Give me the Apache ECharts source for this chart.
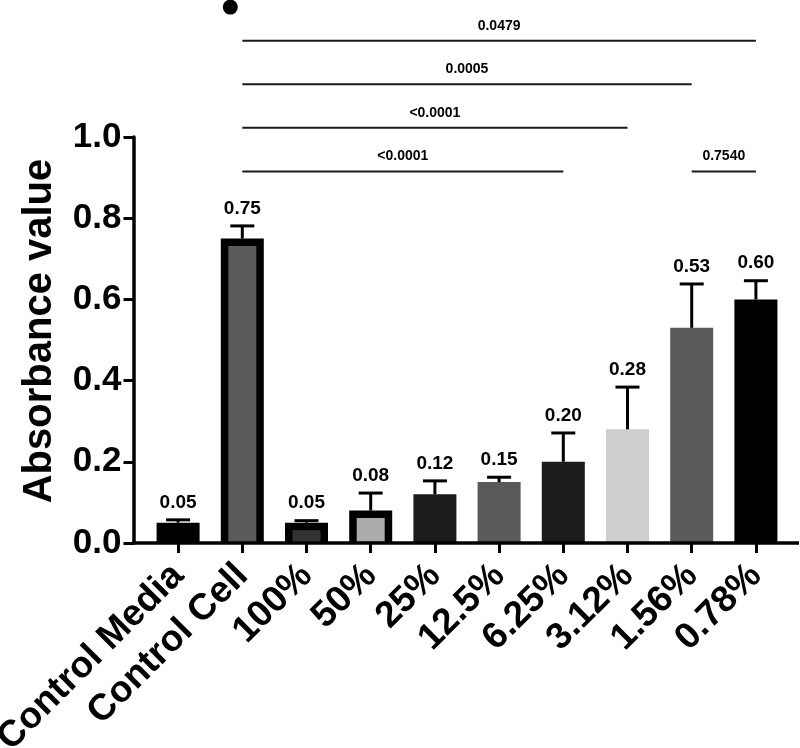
<!DOCTYPE html>
<html>
<head>
<meta charset="utf-8">
<script src="https://cdn.jsdelivr.net/npm/echarts@6/dist/echarts.min.js"></script>
<style>
html,body{margin:0;padding:0;background:#fff}
#chart{width:800px;height:748px}
</style>
</head>
<body>
<div id="chart"></div>
<script>
var categories = ['Control Media', 'Control Cell', '100%', '50%', '25%', '12.5%', '6.25%', '3.12%', '1.56%', '0.78%'];
var means = [0.05, 0.75, 0.05, 0.08, 0.12, 0.15, 0.20, 0.28, 0.53, 0.60];
var errTop = [0.057, 0.781, 0.055, 0.123, 0.153, 0.162, 0.271, 0.384, 0.638, 0.646];
var meanLabels = ['0.05', '0.75', '0.05', '0.08', '0.12', '0.15', '0.20', '0.28', '0.53', '0.60'];
var fillColors = ['#000000', '#5a5a5a', '#333333', '#ababab', '#1c1c1c', '#5a5a5a', '#1c1c1c', '#cecece', '#5a5a5a', '#000000'];
var outlined = [false, true, true, true, false, false, false, false, false, false];

// significance brackets
var bracketFrom = [1, 1, 1, 1, 8];
var bracketTo = [9, 8, 7, 6, 9];
var bracketY = [1.237, 1.13, 1.023, 0.915, 0.915];
var bracketP = ['0.0479', '0.0005', '<0.0001', '<0.0001', '0.7540'];

var dotPoint = [1, 1.32];

var FONT = 'Liberation Sans, Arial, sans-serif';
var BORDER = 7.5;
var BAR_FRAC = 0.67;

var chartDom = document.getElementById('chart');
var myChart = echarts.init(chartDom);
var option;

var barData = means.map(function (v, i) {
  return { value: v, itemStyle: { color: outlined[i] ? '#000000' : fillColors[i] } };
});

var innerData = [];
means.forEach(function (v, i) {
  if (outlined[i]) innerData.push([i, v]);
});

var errData = means.map(function (v, i) { return [i, v, errTop[i]]; });
var bracketData = bracketFrom.map(function (f, k) { return [f, bracketY[k], bracketTo[k]]; });

option = {
  animation: false,
  grid: { left: 146, right: 12, top: 137, bottom: 205, containLabel: false, outerBoundsMode: 'none' },
  xAxis: {
    type: 'category',
    data: categories,
    axisLine: { show: false },
    axisTick: { show: true, alignWithLabel: true, length: 10, lineStyle: { color: '#000', width: 3 } },
    axisLabel: {
      interval: 0,
      rotate: 45,
      margin: 27,
      color: '#000',
      fontFamily: FONT,
      fontWeight: 'bold',
      fontSize: 37
    }
  },
  yAxis: {
    type: 'value',
    min: 0,
    max: 1,
    interval: 0.2,
    offset: 12.5,
    name: 'Absorbance value',
    nameLocation: 'middle',
    nameRotate: 90,
    nameGap: 74,
    nameTextStyle: { color: '#000', fontFamily: FONT, fontWeight: 'bold', fontSize: 40, padding: [0, 0, 0, 18] },
    axisLine: { show: true, lineStyle: { color: '#000', width: 3.5 } },
    axisTick: { show: true, length: 10, lineStyle: { color: '#000', width: 3 } },
    splitLine: { show: false },
    axisLabel: {
      margin: 12,
      color: '#000',
      fontFamily: FONT,
      fontWeight: 'bold',
      fontSize: 35,
      formatter: function (v) { return v.toFixed(1); }
    }
  },
  series: [
    {
      name: 'Absorbance',
      type: 'bar',
      barWidth: (BAR_FRAC * 100) + '%',
      data: barData,
      z: 2
    },
    {
      name: 'inner fill',
      type: 'custom',
      data: innerData,
      encode: { x: 0, y: 1 },
      z: 3,
      renderItem: function (params, api) {
        var i = api.value(0);
        var top = api.coord([i, api.value(1)]);
        var base = api.coord([i, 0]);
        var bw = api.size([1, 0])[0] * BAR_FRAC;
        return {
          type: 'rect',
          shape: { x: top[0] - bw / 2 + BORDER, y: top[1] + BORDER, width: bw - 2 * BORDER, height: base[1] - top[1] - BORDER },
          style: { fill: fillColors[i] }
        };
      }
    },
    {
      name: 'error',
      type: 'custom',
      data: errData,
      encode: { x: 0, y: [1, 2] },
      z: 4,
      renderItem: function (params, api) {
        var i = api.value(0);
        var lo = api.coord([i, api.value(1)]);
        var hi = api.coord([i, api.value(2)]);
        var cap = 12;
        return {
          type: 'group',
          children: [
            { type: 'line', shape: { x1: lo[0], y1: lo[1], x2: hi[0], y2: hi[1] }, style: { stroke: '#000', lineWidth: 3 } },
            { type: 'line', shape: { x1: hi[0] - cap, y1: hi[1], x2: hi[0] + cap, y2: hi[1] }, style: { stroke: '#000', lineWidth: 3 } },
            {
              type: 'text',
              x: hi[0], y: hi[1] - 8,
              style: {
                text: meanLabels[params.dataIndex],
                fill: '#000',
                font: 'bold 19px ' + FONT,
                textAlign: 'center',
                textVerticalAlign: 'bottom'
              }
            }
          ]
        };
      }
    },
    {
      name: 'brackets',
      type: 'custom',
      data: bracketData,
      encode: { x: [0, 2], y: 1 },
      z: 4,
      renderItem: function (params, api) {
        var a = api.coord([api.value(0), api.value(1)]);
        var b = api.coord([api.value(2), api.value(1)]);
        return {
          type: 'group',
          children: [
            { type: 'line', shape: { x1: a[0], y1: a[1], x2: b[0], y2: b[1] }, style: { stroke: '#1a1a1a', lineWidth: 2 } },
            {
              type: 'text',
              x: (a[0] + b[0]) / 2, y: a[1] - 8,
              style: {
                text: bracketP[params.dataIndex],
                fill: '#000',
                font: 'bold 14px ' + FONT,
                textAlign: 'center',
                textVerticalAlign: 'bottom'
              }
            }
          ]
        };
      }
    },
    {
      name: 'marker',
      type: 'scatter',
      data: [dotPoint],
      symbol: 'circle',
      symbolSize: 15,
      symbolOffset: [-12, 0],
      clip: false,
      itemStyle: { color: '#000', opacity: 1 },
      z: 5
    }
  ]
};

option && myChart.setOption(option);

// x axis line runs from the y axis to just past the last band, like the original
var c0 = myChart.convertToPixel({ xAxisIndex: 0 }, 0);
var c1 = myChart.convertToPixel({ xAxisIndex: 0 }, 1);
var cN = myChart.convertToPixel({ xAxisIndex: 0 }, categories.length - 1);
var band = c1 - c0;
var y0 = myChart.convertToPixel({ yAxisIndex: 0 }, 0);
myChart.setOption({
  graphic: [{
    type: 'line',
    z: 10,
    shape: { x1: c0 - band / 2 - 14, y1: y0, x2: cN + band / 2 + 11, y2: y0 },
    style: { stroke: '#000', lineWidth: 3.5 }
  }]
});
</script>
</body>
</html>
